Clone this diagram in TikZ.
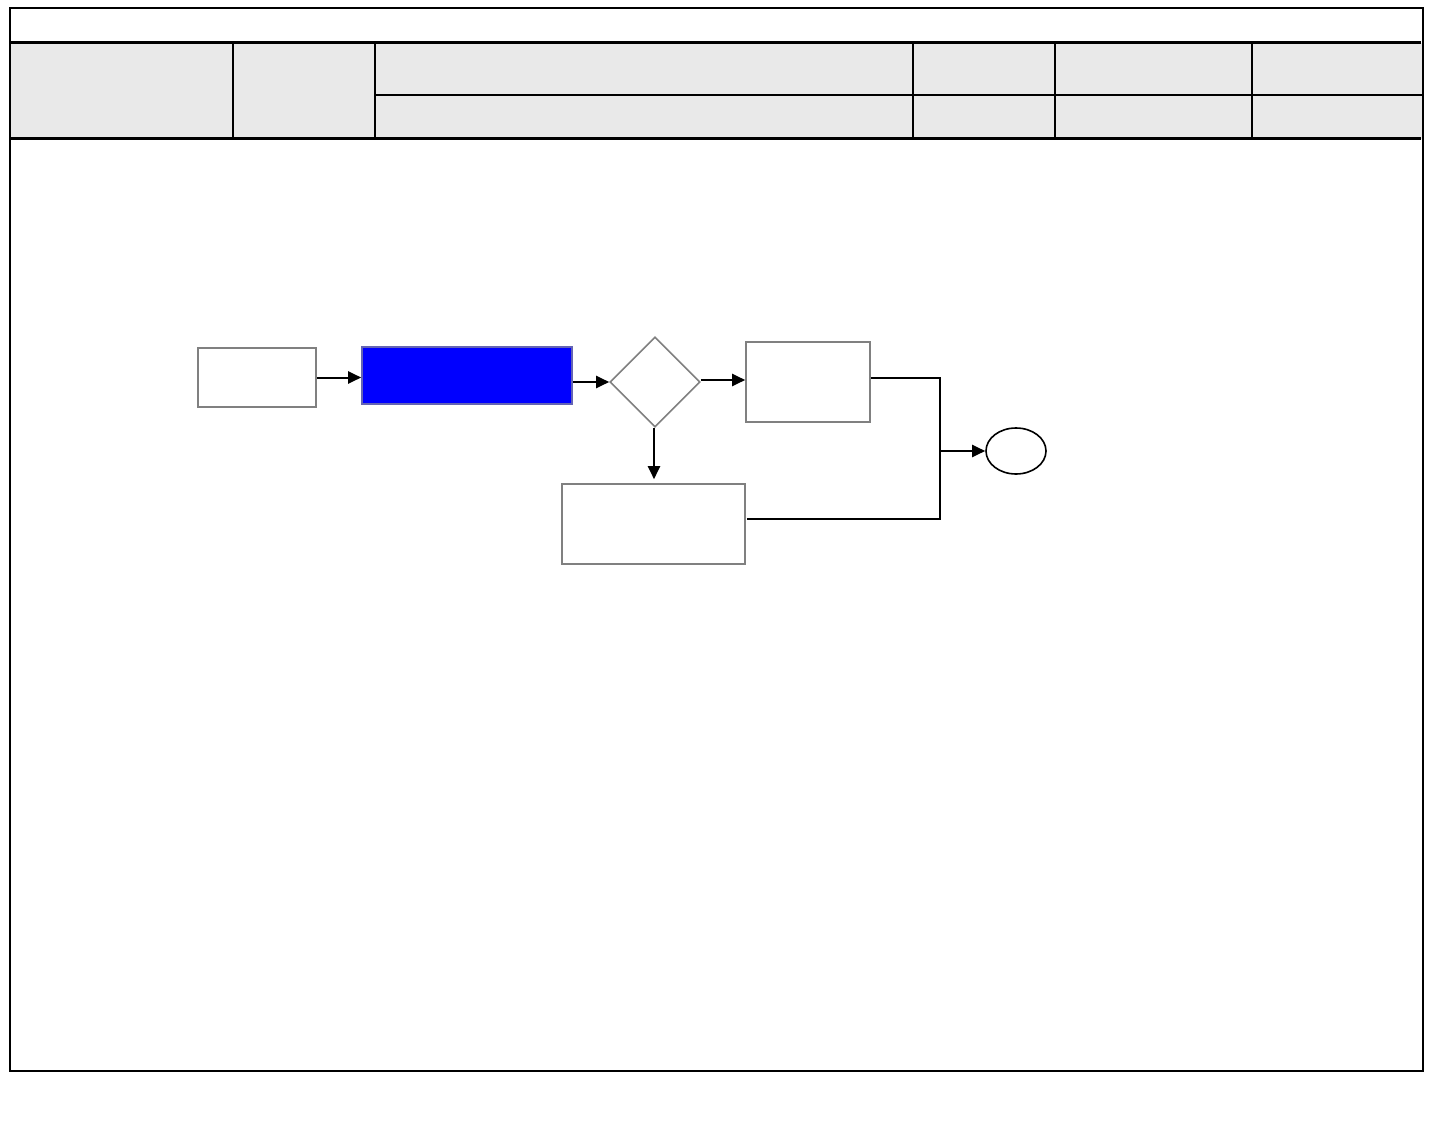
\documentclass[tikz,border=0pt]{standalone}
\usetikzlibrary{arrows.meta,shapes.geometric}
\begin{document}
\begin{tikzpicture}[x=1pt,y=-1pt,
  hdr/.style={line width=3pt},
  thin/.style={line width=2pt},
  proc/.style={draw=black!50,line width=1.6pt,rectangle,inner sep=0pt,fill=white},
  conn/.style={line width=2pt,-{Triangle[length=13pt,width=12pt]}},
  plain/.style={line width=2pt}]
\useasboundingbox (0,0) rectangle (1440,1137);
% header
\fill[fill={rgb,255:red,233;green,233;blue,233}] (10,43) rectangle (1422,139);
\draw[thin] (10,8) rectangle (1423,1071);
\draw[hdr] (10,43) -- (1421,43);
\draw[hdr] (10,139) -- (1421,139);
\draw[thin] (375,95) -- (1423,95);
\foreach \xx in {233,375,913,1055,1252}{\draw[thin] (\xx,43) -- (\xx,139);}
% flow
\node[proc,minimum width=118pt,minimum height=59pt] (b1) at (257,377.5) {};
\node[proc,draw={rgb,255:red,100;green,100;blue,180},fill={rgb,255:red,0;green,0;blue,255},minimum width=210pt,minimum height=57pt] (b2) at (467,375.5) {};
\node[proc,diamond,minimum width=90pt,minimum height=90pt] (d) at (655,382) {};
\node[proc,minimum width=124pt,minimum height=80pt] (b3) at (808,382) {};
\node[proc,minimum width=183pt,minimum height=80pt] (b4) at (653.5,524) {};
\node[draw,ellipse,line width=1.6pt,minimum width=60pt,minimum height=46pt,inner sep=0pt] (e) at (1016,451) {};
\coordinate (j) at (940,451);
\draw[conn] (b1.east) -- (b1.east -| b2.west);
\draw[conn] (b2.east |- d.west) -- (d.west);
\draw[conn] ([yshift=2pt]d.east) -- ([yshift=2pt]b3.west);
\draw[conn] ([xshift=-1pt]d.south) -- ([xshift=-1pt,yshift=4pt]d.south |- b4.north);
\draw[plain] ([yshift=4pt]b3.east) -| (j);
\draw[plain] ([yshift=5pt,xshift=1pt]b4.east) -| (j);
\draw[conn] (j) -- (e.west);
\end{tikzpicture}
\end{document}
